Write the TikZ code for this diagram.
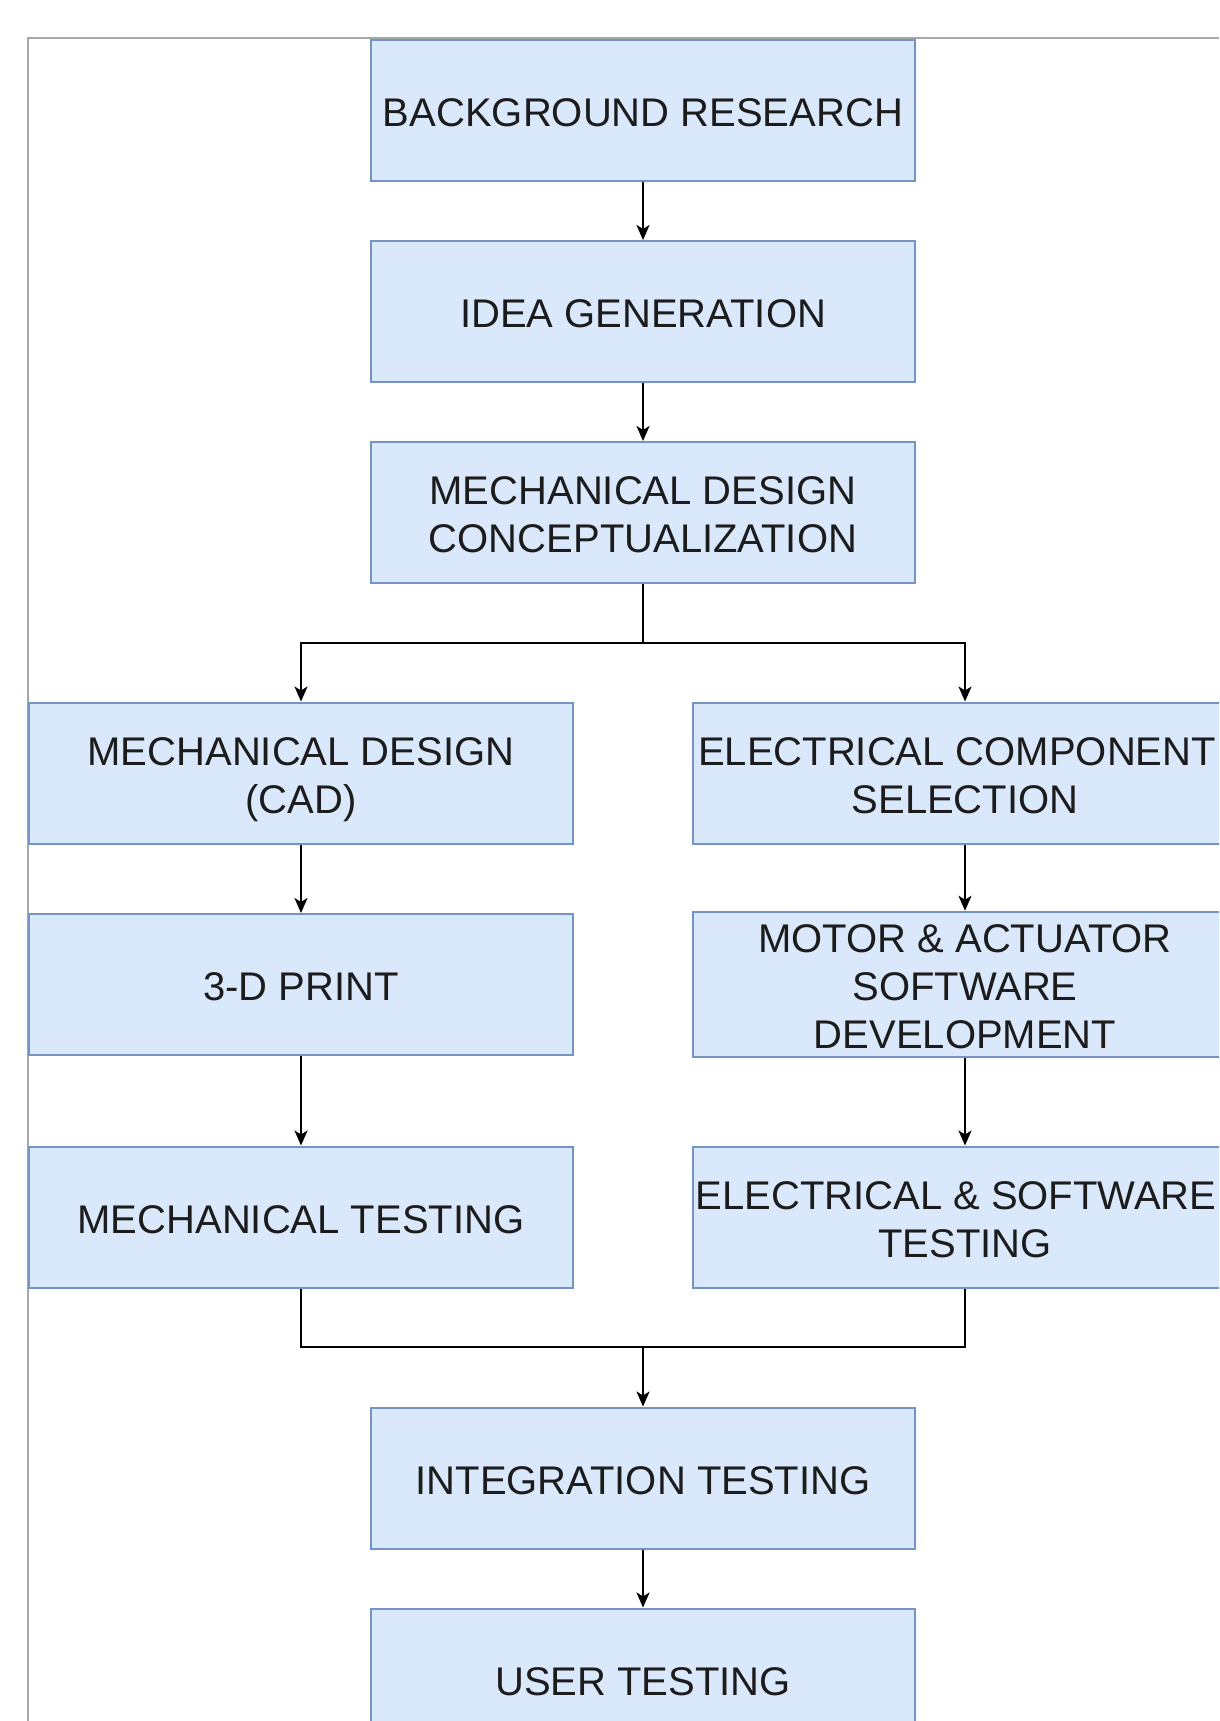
\documentclass[tikz,border=0pt]{standalone}
\usepackage{fontspec}
\setmainfont{Liberation Sans}
\usetikzlibrary{arrows.meta}
\definecolor{boxfill}{HTML}{DAE8FC}
\definecolor{boxline}{HTML}{7594C4}
\definecolor{frameline}{HTML}{A8A8A8}
\definecolor{txt}{HTML}{1C1C1C}
\newcommand\stT{\rule{0pt}{41pt}}
\newcommand\stB{\rule[-8.5pt]{0pt}{8.5pt}}
\tikzset{
  stepbox/.style={rectangle, draw=boxline, fill=boxfill, line width=2pt,
    minimum width=544pt, minimum height=141pt, inner sep=0pt, align=center,
    text=txt, font=\fontsize{40}{48}\selectfont},
  flow/.style={line width=2.5pt, draw=black,
    -{Stealth[length=15pt,width=13pt,inset=4pt]}},
  plainline/.style={line width=2.5pt, draw=black},
  framestyle/.style={draw=frameline, line width=2pt}
}
\begin{document}
\begin{tikzpicture}[x=1pt,y=-1pt]
\useasboundingbox (0,0) rectangle (1219,1721);
\clip (0,0) rectangle (1219,1721);
\fill[white] (0,0) rectangle (1219,1721);
% frame
\coordinate (f1) at (1219,38);
\coordinate (f2) at (28,38);
\coordinate (f3) at (28,1721);
\draw[framestyle] (f1) -- (f2) -- (f3);
% nodes
\node[stepbox] (bg) at (643,110) {\stT BACKGROUND RESEARCH\stB};
\node[stepbox] (idea) at (643,311.5) {\stT IDEA GENERATION\stB};
\node[stepbox] (mdc) at (643,512.5) {\stT MECHANICAL DESIGN\\CONCEPTUALIZATION\stB};
\node[stepbox] (cad) at (301,773) {\stT MECHANICAL DESIGN\\(CAD)\stB};
\node[stepbox] (ecs) at (965,773) {\stT ELECTRICAL COMPONENT\hspace*{16pt}\\SELECTION\stB};
\node[stepbox] (print) at (301,984.5) {\stT 3-D PRINT\stB};
\node[stepbox] (motor) at (965,984.5) {\stT MOTOR \& ACTUATOR\\SOFTWARE\\DEVELOPMENT\stB};
\node[stepbox] (mtest) at (301,1217) {\stT MECHANICAL TESTING\stB};
\node[stepbox] (etest) at (965,1217) {\stT ELECTRICAL \& SOFTWARE\hspace*{18pt}\\TESTING\stB};
\node[stepbox] (integ) at (643,1478) {\stT INTEGRATION TESTING\stB};
\node[stepbox] (user) at (643,1679) {\stT USER TESTING\stB};
% connectors
\draw[flow] (bg) -- (idea);
\draw[flow] (idea) -- (mdc);
\coordinate (split) at (643,643);
\draw[plainline] (mdc.south) -- (split);
\draw[flow] (split) -| (cad.north);
\draw[flow] (split) -| (ecs.north);
\draw[flow] (cad) -- (print);
\draw[flow] (print) -- (mtest);
\draw[flow] (ecs) -- (motor);
\draw[flow] (motor) -- (etest);
\coordinate (merge) at (643,1347);
\draw[plainline] (mtest.south) |- (merge);
\draw[plainline] (etest.south) |- (merge);
\draw[flow] (merge) -- (integ.north);
\draw[flow] (integ) -- (user);
\end{tikzpicture}
\end{document}
